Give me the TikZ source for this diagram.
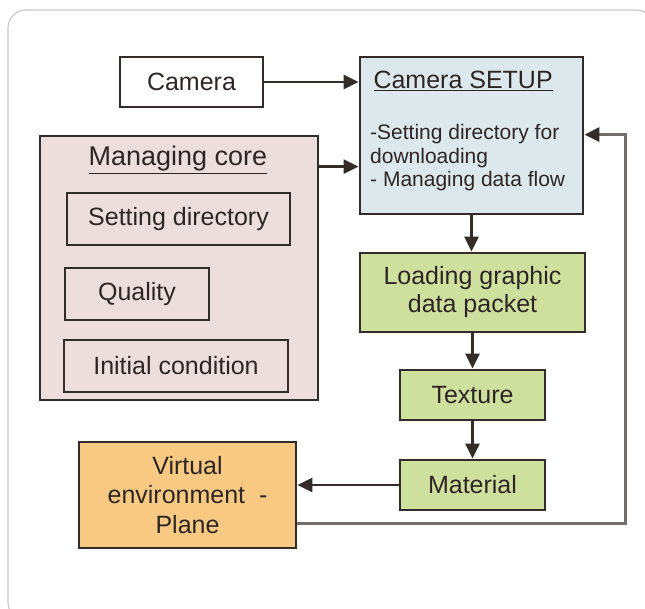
\documentclass[tikz,border=0pt]{standalone}
\usepackage{fontspec}
\setmainfont{Liberation Sans}
\usetikzlibrary{positioning, arrows.meta}
\definecolor{inkcolor}{RGB}{45,38,36}
\definecolor{edgecolor}{RGB}{52,44,42}
\definecolor{corecolor}{RGB}{237,222,222}
\definecolor{setupcolor}{RGB}{221,232,236}
\definecolor{stepcolor}{RGB}{207,224,158}
\definecolor{envcolor}{RGB}{248,201,130}
\definecolor{loopcolor}{RGB}{115,110,107}
\definecolor{framecolor}{RGB}{200,200,200}

\begin{document}
\begin{tikzpicture}[x=1pt, y=-1pt,
    box/.style={draw=edgecolor, line width=2.8pt, inner sep=0pt, text=inkcolor,
        font=\fontsize{25}{28}\selectfont, align=center},
    flow/.style={-{Triangle[length=15pt, width=14pt]}, line width=2.4pt, draw=edgecolor}]
    % Cadre
    \clip (0,0) rectangle (645,608);
    \draw[framecolor, line width=1.2pt, rounded corners=18pt] (8,10) rectangle (654,620);

    % Camera
    \node[box, fill=white, minimum width=143pt, minimum height=50pt] (camera) at (191.5,82) {Camera};

    % Camera SETUP
    \node[box, fill=setupcolor, minimum width=223pt, minimum height=157pt] (setup) at (471.5,135.5) {};
    \node[anchor=west, text=inkcolor, font=\fontsize{25}{28}\selectfont] (setuptitle) at (370,81) {\underline{Camera SETUP}};
    \node[anchor=west, text=inkcolor, font=\fontsize{21}{23.5}\selectfont, align=left, inner sep=0pt] (setuptext) at (370,158)
        {-Setting directory for\\downloading\\- Managing data flow};

    % Managing core
    \node[box, fill=corecolor, minimum width=278pt, minimum height=264pt] (core) at (179,268) {};
    \node[text=inkcolor, font=\fontsize{27}{30}\selectfont] (coretitle) at (178,160) {\underline{Managing core}};
    \node[box, minimum width=223pt, minimum height=52pt] (setdir) at (178.5,219) {Setting directory};
    \node[box, minimum width=144pt, minimum height=52pt] (quality) at (137,294) {Quality};
    \node[box, minimum width=224pt, minimum height=52pt] (initial) at (176,366) {Initial condition};

    % Chaine de traitement
    \node[box, fill=stepcolor, minimum width=225pt, minimum height=79pt] (loading) at (472.5,292.5) {Loading graphic\\data packet};
    \node[box, fill=stepcolor, minimum width=145pt, minimum height=50pt] (texture) at (472.5,395) {Texture};
    \node[box, fill=stepcolor, minimum width=145pt, minimum height=50pt] (material) at (472.5,485) {Material};

    % Virtual environment
    \node[box, fill=envcolor, minimum width=217pt, minimum height=106pt, font=\fontsize{25}{29.5}\selectfont] (virtual) at (187.5,495)
        {Virtual\\environment\ \ -\\Plane};

    % Fleches
    \draw[flow] (camera.east) -- (camera.east -| setup.west);
    \draw[flow] ([yshift=-32pt]core.north east) -- ([yshift=-111pt]setup.north west);
    \draw[flow] (setup.south) -- (setup.south |- loading.north);
    \draw[flow] (loading.south) -- (texture.north);
    \draw[flow] (texture.south) -- (material.north);
    \draw[flow] (material.west) -- (material.west -| virtual.east);

    % Retour vers Camera SETUP
    \coordinate (rail) at (625,330);
    \draw[-{Triangle[length=15pt, width=14pt, color=edgecolor]}, line width=3pt, loopcolor]
        ([yshift=-83pt]virtual.north east) -| (rail) |- ([yshift=-79pt]setup.north east);
\end{tikzpicture}
\end{document}
